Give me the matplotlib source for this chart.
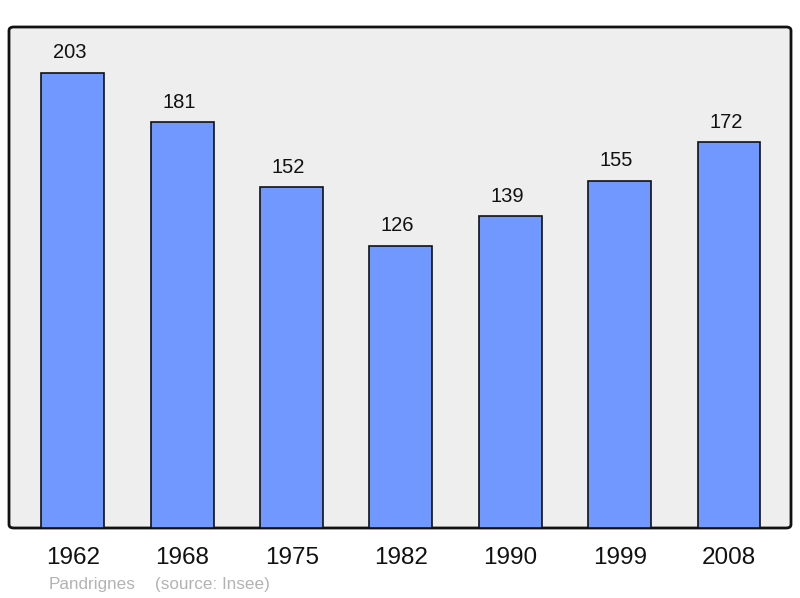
import matplotlib
matplotlib.use("Agg")
import matplotlib.pyplot as plt
from matplotlib.patches import FancyBboxPatch

years = ["1962", "1968", "1975", "1982", "1990", "1999", "2008"]
population = [203, 181, 152, 126, 139, 155, 172]

plt.rcParams['font.family'] = ['Liberation Sans', 'DejaVu Sans']

W, H = 800, 598
fig = plt.figure(figsize=(W / 100, H / 100), dpi=100)
ax = fig.add_axes([9 / W, (H - 528) / H, 782 / W, 501 / H])
ax.set_facecolor('none')
ax.set_zorder(2)

# rounded grey frame behind the plot
frame = FancyBboxPatch((9 / W, (H - 528) / H), 782 / W, 501 / H,
                       boxstyle="round,pad=0,rounding_size=0.006",
                       transform=fig.transFigure, facecolor='#eeeeee',
                       edgecolor='#111111', linewidth=2, zorder=-1)
fig.patches.append(frame)

x = range(len(years))
ax.bar(x, population, width=0.576, color='#7098ff', edgecolor='#111111',
       linewidth=1.2, zorder=2)
for i, v in zip(x, population):
    ax.text(i - 0.03, v + 9.0, str(v), ha='center', va='center', fontsize=14.5,
            color='#111111')

ax.set_xlim(-0.585, 6.567)
ax.set_ylim(0, 223.5)
ax.set_yticks([])
ax.set_xticks(list(x))
ax.set_xticklabels(years, fontsize=17.5, color='#111111')
ax.tick_params(axis='x', length=0, pad=14)
for s in ax.spines.values():
    s.set_visible(False)

fig.text(49 / W, 1 - 584 / H, "Pandrignes", fontsize=12.3, color='#b3b3b3',
         va='center', ha='left')
fig.text(155 / W, 1 - 584 / H, "(source: Insee)", fontsize=12.3, color='#b3b3b3',
         va='center', ha='left')

fig.savefig("out.png", dpi=100)
